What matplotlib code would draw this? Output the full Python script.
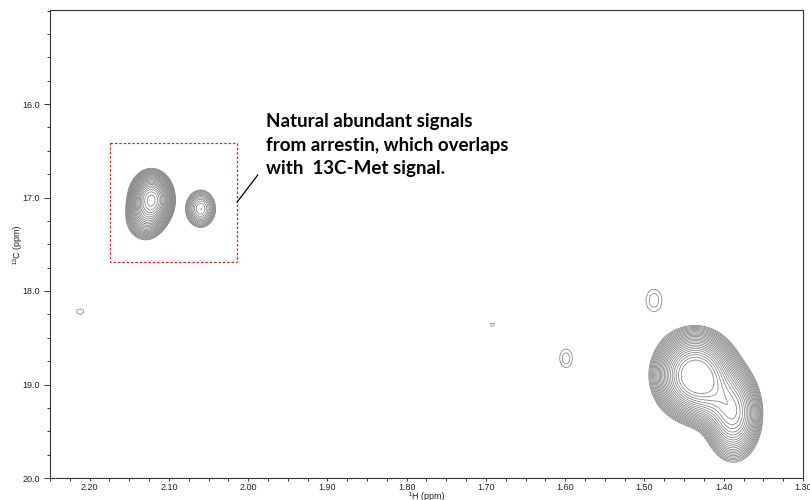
import numpy as np
import matplotlib
matplotlib.use("Agg")
import matplotlib.pyplot as plt
from matplotlib.patches import Rectangle
from matplotlib.ticker import MultipleLocator, FormatStrFormatter

# peaks: 1H shift, 13C shift, linewidths (ppm), height
peak_h = [2.122, 2.130, 2.060, 2.212, 1.692, 1.599, 1.488, 1.436, 1.410, 1.388]
peak_c = [17.02, 17.22, 17.12, 18.22, 18.36, 18.72, 18.10, 18.90, 19.12, 19.32]
peak_wh = [0.0118, 0.012, 0.0103, 0.0115, 0.010, 0.012, 0.015, 0.022, 0.018, 0.016]
peak_wc = [0.13, 0.12, 0.109, 0.07, 0.06, 0.15, 0.18, 0.20, 0.18, 0.22]
peak_amp = [26.0, 6.0, 5.4, 1.1, 1.05, 1.25, 1.25, 34.0, 8.0, 15.0]

# contour levels: geometric series like the NMR software uses
base_level = 1.0
level_step = 1.15
n_levels = 24

x_ticks = [2.20, 2.10, 2.00, 1.90, 1.80, 1.70, 1.60, 1.50, 1.40, 1.30]
y_ticks = [16.0, 17.0, 18.0, 19.0, 20.0]

note = "Natural abundant signals\nfrom arrestin, which overlaps\nwith  13C-Met signal."

# spectrum on a coarse grid (gives the faceted contour look)
h = np.arange(1.30, 2.25, 0.003)
c = np.arange(15.0, 20.0, 0.025)
H, C = np.meshgrid(h, c)
S = np.zeros_like(H)
for h0, c0, wh, wc, a in zip(peak_h, peak_c, peak_wh, peak_wc, peak_amp):
    S += a*np.exp(-0.5*((H-h0)/wh)**2 - 0.5*((C-c0)/wc)**2)

levels = base_level*level_step**np.arange(n_levels)

fig = plt.figure(figsize=(8.1, 5), dpi=100)
ax = fig.add_axes([50/810, 22/500, 753/810, 467.5/500])
ax.contour(H, C, S, levels=levels, colors='#808080', linewidths=0.55)

ax.set_xlim(2.25, 1.30)
ax.set_ylim(20.0, 15.0)
ax.set_xticks(x_ticks)
ax.set_yticks(y_ticks)
ax.xaxis.set_major_formatter(FormatStrFormatter('%.2f'))
ax.yaxis.set_major_formatter(FormatStrFormatter('%.1f'))
ax.xaxis.set_minor_locator(MultipleLocator(0.025))
ax.yaxis.set_minor_locator(MultipleLocator(0.25))
ax.tick_params(which='both', direction='out', width=0.7, colors='#333333',
               labelsize=6.5, labelcolor='#222222', pad=1,
               labelfontfamily='Liberation Sans')
ax.tick_params(axis='x', which='major', length=2.5)
ax.tick_params(axis='x', which='minor', length=1.8)
ax.tick_params(axis='y', which='major', length=4.5, pad=3)
ax.tick_params(axis='y', which='minor', length=2)
for sp in ax.spines.values():
    sp.set_linewidth(0.8)
    sp.set_color('#333333')

ax.set_xlabel('\u00b9H (ppm)', fontsize=6.5, family='Liberation Sans', labelpad=0, color='#222222')
ax.set_ylabel('\u00b9\u00b3C (ppm)', fontsize=6.5, family='Liberation Sans', labelpad=0, color='#222222')

# dashed box around the arrestin signals
ax.add_patch(Rectangle((2.174, 16.417), -0.160, 1.273, fill=False,
                       edgecolor='#d9262e', linestyle=(0, (2, 1.5)), linewidth=0.9))
ax.plot([2.014, 1.988], [17.05, 16.76], color='black', linewidth=0.9)
ax.text(1.977, 16.10, note, fontsize=13.5, fontweight='bold', family='Lato',
        va='top', ha='left', linespacing=1.45)

fig.savefig('out.png', dpi=100)
